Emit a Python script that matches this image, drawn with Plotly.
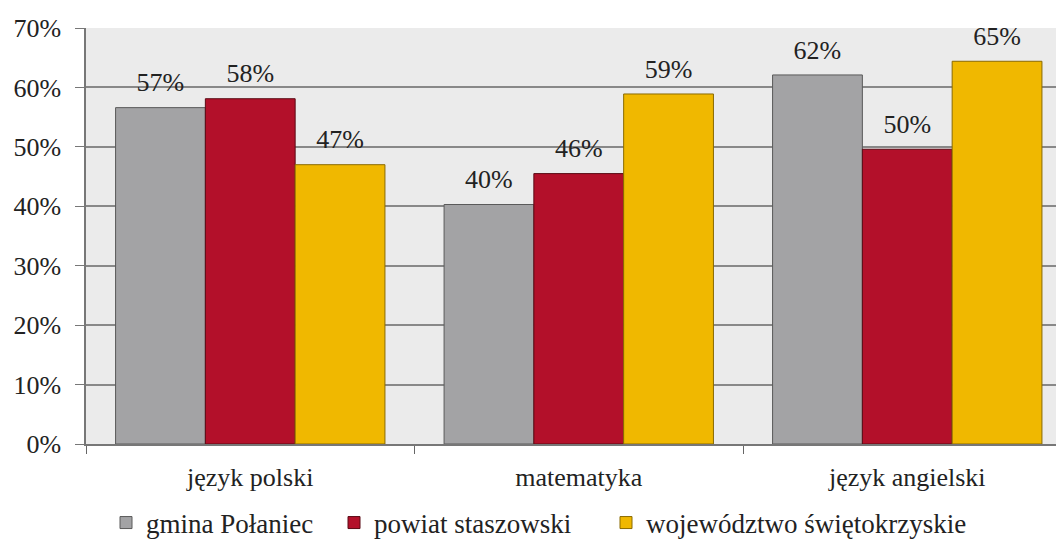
import plotly.graph_objects as go

categories = ["język polski", "matematyka", "język angielski"]
series_names = ["gmina Połaniec", "powiat staszowski", "województwo świętokrzyskie"]
gmina_values = [56.6, 40.3, 62.1]
powiat_values = [58.1, 45.5, 49.6]
woj_values = [47.0, 58.9, 64.4]
gmina_labels = ["57%", "40%", "62%"]
powiat_labels = ["58%", "46%", "50%"]
woj_labels = ["47%", "59%", "65%"]
y_ticks = [0, 10, 20, 30, 40, 50, 60, 70]
y_tick_labels = ["0%", "10%", "20%", "30%", "40%", "50%", "60%", "70%"]

FONT = "Liberation Serif, DejaVu Serif, serif"
FS = 26
LFS = 27
colors = ["#a3a3a5", "#b3102a", "#f0b800"]
outlines = ["#5a5a5a", "#5a0a14", "#8a6a00"]
legend_names = ["legend", "legend2", "legend3"]
legend_x = [106, 334, 606]

fig = go.Figure()
all_vals = [gmina_values, powiat_values, woj_values]
all_labs = [gmina_labels, powiat_labels, woj_labels]
for i, (name, vals) in enumerate(zip(series_names, all_vals)):
    fig.add_trace(go.Bar(
        name=name, x=categories, y=vals, offsetgroup=str(i),
        marker=dict(color=colors[i], line=dict(color=outlines[i], width=1)),
        legend=legend_names[i],
    ))
for i, (vals, labs) in enumerate(zip(all_vals, all_labs)):
    fig.add_trace(go.Scatter(
        x=categories, y=vals, text=labs, mode="markers+text", offsetgroup=str(i),
        textposition="top center", cliponaxis=False, showlegend=False,
        hoverinfo="skip",
        marker=dict(size=14, opacity=0),
        textfont=dict(family=FONT, size=FS, color="#222222"),
    ))

W, H = 1056, 542
ml, mr, mt, mb = 86, 0, 28, 98
unit_px = 328.5
plot_w = W - ml - mr
x_max = -0.5 + plot_w / unit_px

legend_common = dict(orientation="h", xref="container", yref="container",
                     yanchor="middle", xanchor="left", y=(H - 523) / H,
                     font=dict(family=FONT, size=LFS, color="#222222"),
                     bgcolor="rgba(0,0,0,0)", itemwidth=30)
layout_legends = {}
for ln, lx in zip(legend_names, legend_x):
    layout_legends[ln] = dict(legend_common, x=lx / W)

fig.update_layout(
    width=W, height=H,
    margin=dict(l=ml, r=mr, t=mt, b=mb),
    paper_bgcolor="white",
    plot_bgcolor="#ebebeb",
    barmode="group", bargap=0.18, bargroupgap=0.0,
    scattermode="group", scattergap=0.18,
    showlegend=True,
    font=dict(family=FONT, size=FS, color="#222222"),
    xaxis=dict(range=[-0.5, x_max], tickson="boundaries", ticks="outside",
               ticklen=8, tickcolor="#666666", showline=True, linecolor="#777777",
               linewidth=1.5, showgrid=False, ticklabelstandoff=9, automargin=False,
               tickfont=dict(family=FONT, size=FS, color="#222222")),
    yaxis=dict(range=[0, 70], tickmode="array", tickvals=y_ticks, ticktext=y_tick_labels,
               ticks="outside", ticklen=9, tickcolor="#777777", showline=True,
               linecolor="#777777", linewidth=1.5, gridcolor="#888888", gridwidth=1.5,
               zeroline=False, ticklabelstandoff=9, automargin=False,
               tickfont=dict(family=FONT, size=FS, color="#222222")),
    **layout_legends,
)

fig.write_html("out.html", config={"displayModeBar": False},
               post_script="document.body.style.margin='0';")
